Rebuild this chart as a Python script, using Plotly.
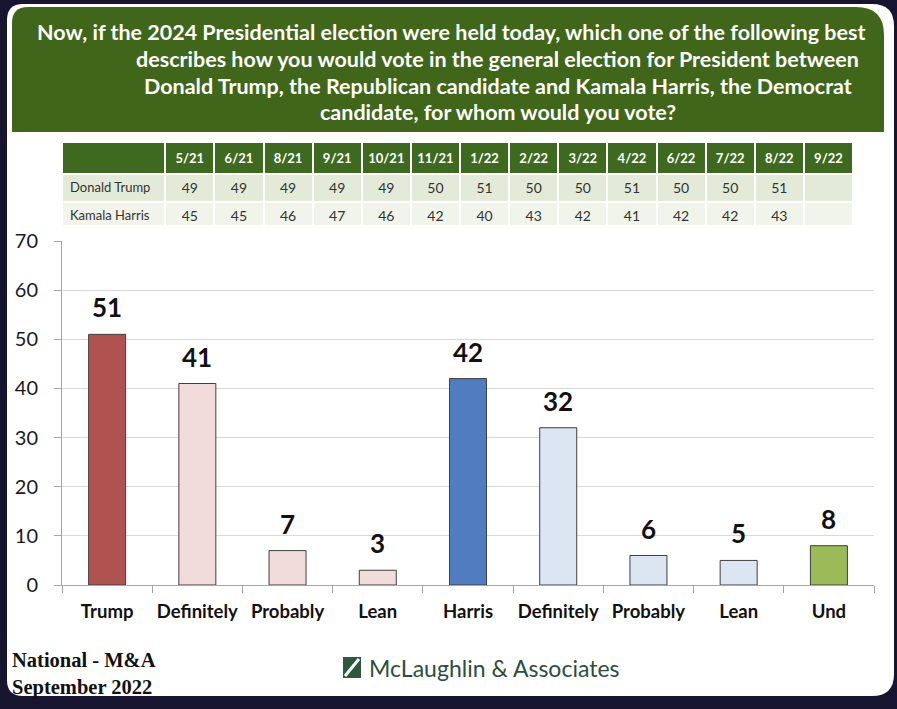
import plotly.graph_objects as go

# ---------------- data ----------------
bar_keys = ["Trump", "T_Def", "T_Prob", "T_Lean", "Harris", "H_Def", "H_Prob", "H_Lean", "Und"]
bar_labels = ["Trump", "Definitely", "Probably", "Lean", "Harris", "Definitely", "Probably", "Lean", "Und"]
bar_values = [51, 41, 7, 3, 42, 32, 6, 5, 8]
bar_colors = ["#B0524E", "#F2DCDB", "#F2DCDB", "#F2DCDB", "#4F7DBF", "#DCE6F2", "#DCE6F2", "#DCE6F2", "#9BBB59"]

table_dates = ["5/21", "6/21", "8/21", "9/21", "10/21", "11/21", "1/22", "2/22", "3/22", "4/22", "6/22", "7/22", "8/22", "9/22"]
table_names = ["Donald Trump", "Kamala Harris"]
trump_trend = [49, 49, 49, 49, 49, 50, 51, 50, 50, 51, 50, 50, 51, None]
harris_trend = [45, 45, 46, 47, 46, 42, 40, 43, 42, 41, 42, 42, 43, None]

title_lines = [
    "Now, if the 2024 Presidential election were held today, which one of the following best",
    "describes how you would vote in the general election for President between",
    "Donald Trump, the Republican candidate and Kamala Harris, the Democrat",
    "candidate, for whom would you vote?",
]
y_ticks = [0, 10, 20, 30, 40, 50, 60, 70]

W, H = 897, 709
def px(x):
    return x / W
def py(y):
    return 1 - y / H

def rounded_path(x0, y0, x1, y1, r_tl, r_tr, r_br, r_bl):
    X0, X1 = px(x0), px(x1)
    Y0, Y1 = py(y0), py(y1)
    rx = lambda r: r / W
    ry = lambda r: r / H
    p = f"M {X0 + rx(r_tl)},{Y0} L {X1 - rx(r_tr)},{Y0} Q {X1},{Y0} {X1},{Y0 - ry(r_tr)} "
    p += f"L {X1},{Y1 + ry(r_br)} Q {X1},{Y1} {X1 - rx(r_br)},{Y1} "
    p += f"L {X0 + rx(r_bl)},{Y1} Q {X0},{Y1} {X0},{Y1 + ry(r_bl)} "
    p += f"L {X0},{Y0 - ry(r_tl)} Q {X0},{Y0} {X0 + rx(r_tl)},{Y0} Z"
    return p

fig = go.Figure()

fig.add_trace(go.Bar(
    x=bar_keys, y=bar_values,
    marker=dict(color=bar_colors, line=dict(color="#3F3F3F", width=1)),
    width=0.41, hoverinfo="skip", showlegend=False,
))

# table
cell_text = [table_names,
             *[[("" if t is None else str(t)), ("" if h is None else str(h))] for t, h in zip(trump_trend, harris_trend)]]
ncols = len(table_dates) + 1
row_fill = ["#E3EBD8", "#F0F4EA"]
fig.add_trace(go.Table(
    domain=dict(x=[px(62), px(853)], y=[py(226), py(142)]),
    columnwidth=[103] + [49] * len(table_dates),
    header=dict(
        values=[""] + [f"<b>{d}</b>" for d in table_dates],
        fill_color="#3E6A1F", line=dict(color="white", width=2),
        font=dict(family="Lato, sans-serif", size=13, color="white"),
        align="center", height=24,
    ),
    cells=dict(
        values=cell_text,
        fill_color=[row_fill] * ncols,
        line=dict(color="white", width=2),
        font=dict(family="Lato, sans-serif", size=[13] + [14] * len(table_dates), color="#333333"),
        align=["left"] + ["center"] * len(table_dates),
        height=28,
    ),
))

shapes = []
# white panel
shapes.append(dict(type="path", xref="paper", yref="paper", layer="below",
                   path=rounded_path(7, 4, 894, 696, 16, 22, 22, 16),
                   fillcolor="white", line=dict(width=0)))
# green header
shapes.append(dict(type="path", xref="paper", yref="paper", layer="below",
                   path=rounded_path(12, 7, 884, 132, 16, 28, 0, 0),
                   fillcolor="#3F6619", line=dict(width=0)))
# logo square
shapes.append(dict(type="rect", xref="paper", yref="paper",
                   x0=px(343), x1=px(361), y0=py(678), y1=py(657),
                   fillcolor="#2D5A3A", line=dict(width=0)))
shapes.append(dict(type="line", xref="paper", yref="paper",
                   x0=px(345), x1=px(359), y0=py(676), y1=py(659),
                   line=dict(color="white", width=3)))

annotations = []
annotations.append(dict(text=f"<b>{title_lines[0]}</b>", x=px(35), y=py(32), xanchor="left", yanchor="middle",
                        xref="paper", yref="paper", showarrow=False,
                        font=dict(family="Lato, sans-serif", size=21.5, color="white")))
for i, line in enumerate(title_lines[1:]):
    annotations.append(dict(text=f"<b>{line}</b>", x=px(498), y=py(59 + 26.5 * i), xanchor="center", yanchor="middle",
                            xref="paper", yref="paper", showarrow=False,
                            font=dict(family="Lato, sans-serif", size=21.5, color="white")))
# data labels
for k, v in zip(bar_keys, bar_values):
    annotations.append(dict(text=f"<b>{v}</b>", x=k, y=v, xref="x", yref="y", yanchor="bottom",
                            yshift=9, showarrow=False,
                            font=dict(family="Lato, sans-serif", size=26, color="#111111")))
# footer
annotations.append(dict(text="<b>National - M&A<br>September 2022</b>", x=px(10), y=py(674), xanchor="left",
                        yanchor="middle", align="left", xref="paper", yref="paper", showarrow=False,
                        font=dict(family="Liberation Serif, serif", size=20.5, color="#111111")))
annotations.append(dict(text="McLaughlin & Associates", x=px(367), y=py(668), xanchor="left", yanchor="middle",
                        xref="paper", yref="paper", showarrow=False,
                        font=dict(family="Lato, sans-serif", size=23, color="#2B4E3E")))

fig.update_layout(
    width=W, height=H,
    margin=dict(l=0, r=0, t=0, b=0, pad=0),
    paper_bgcolor="#16142F", plot_bgcolor="rgba(0,0,0,0)",
    shapes=shapes, annotations=annotations,
    xaxis=dict(
        domain=[px(62), px(874)], type="category", automargin=False, tickangle=0,
        tickvals=bar_keys, ticktext=[f"<b>{t}</b>" for t in bar_labels],
        tickson="boundaries", ticks="outside", ticklen=7, tickcolor="#A6A6A6",
        showline=True, linecolor="#A6A6A6", linewidth=1, showgrid=False,
        tickfont=dict(family="Lato, sans-serif", size=18.5, color="#111111"),
        ticklabelstandoff=10,
    ),
    yaxis=dict(
        domain=[py(585), py(241)], range=[0, 70], tickvals=y_ticks, automargin=False,
        ticks="outside", ticklen=7, tickcolor="#A6A6A6",
        showline=True, linecolor="#A6A6A6", linewidth=1,
        showgrid=True, gridcolor="#D9D9D9", gridwidth=1, zeroline=False,
        tickfont=dict(family="Lato, sans-serif", size=20, color="#1A1A1A"),
        ticklabelstandoff=12,
    ),
)

fig.write_html(
    "out.html",
    config={"displayModeBar": False},
    post_script="document.body.style.margin='0';document.body.style.background='#16142F';document.body.style.overflow='hidden';",
)
